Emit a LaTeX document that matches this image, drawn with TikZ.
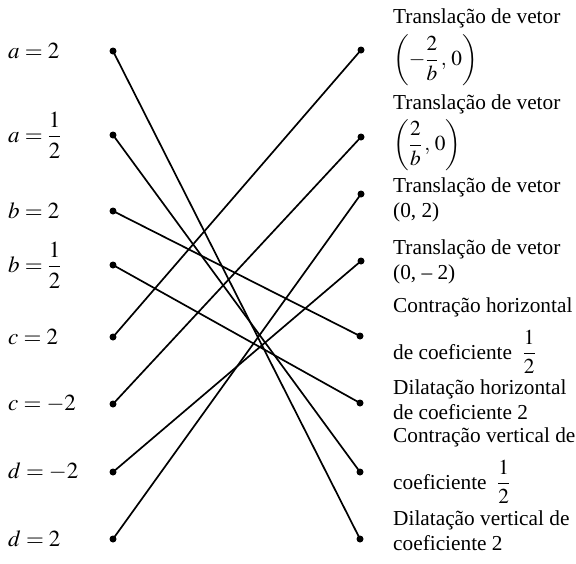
\documentclass[tikz,border=0pt]{standalone}
\usepackage{amsmath}
\usepackage{mathptmx}
\usepackage{fontspec}
\setmainfont{Liberation Serif}
\usetikzlibrary{calc}
\newcommand{\BigTxt}{\fontsize{23}{27}\selectfont}
\newcommand{\DescTxt}{\fontsize{21.3}{25}\selectfont}

\begin{document}
\begin{tikzpicture}[x=1pt,y=-1pt,
  dot/.style={circle,fill=black,inner sep=0pt,minimum size=7pt},
  lbl/.style={anchor=west,inner sep=0pt,font=\BigTxt},
  desc/.style={anchor=north west,inner sep=0pt,align=left,font=\DescTxt},
  link/.style={line width=1.7pt}]
\useasboundingbox (0,0) rectangle (576,563);
% left column: parameters
\node[dot] (aTwo) at (113,51) {};
\node[dot] (aHalf) at (113,135) {};
\node[dot] (bTwo) at (113,211) {};
\node[dot] (bHalf) at (113,265) {};
\node[dot] (cTwo) at (113,337) {};
\node[dot] (cMinus) at (113,404) {};
\node[dot] (dMinus) at (113,472) {};
\node[dot] (dTwo) at (113,539) {};
\node[lbl] (labATwo) at (8,51) {$a=2$};
\node[lbl] (labAHalf) at (8,135) {$a=\dfrac{1}{2}$};
\node[lbl] (labBTwo) at (8,211) {$b=2$};
\node[lbl] (labBHalf) at (8,265) {$b=\dfrac{1}{2}$};
\node[lbl] (labCTwo) at (8,337) {$c=2$};
\node[lbl] (labCMinus) at (8,404) {$c=-2$};
\node[lbl] (labDMinus) at (8,472) {$d=-2$};
\node[lbl] (labDTwo) at (8,539) {$d=2$};
% right column: transformations
\node[dot] (transNeg) at (361,50) {};
\node[dot] (transPos) at (361,137) {};
\node[dot] (transUp) at (361,194) {};
\node[dot] (transDown) at (361,261) {};
\node[dot] (contrH) at (360,336) {};
\node[dot] (dilatH) at (360,403) {};
\node[dot] (contrV) at (360,472) {};
\node[dot] (dilatV) at (360,539) {};
\node[desc] (txtNeg) at (393,9) {Translação de vetor\\[5pt]$\biggl(-\dfrac{2}{b}\,,\,0\biggr)$};
\node[desc] (txtPos) at (393,95) {Translação de vetor\\[4pt]$\biggl(\dfrac{2}{b}\,,\,0\biggr)$};
\node[desc] (txtUp) at (393,178) {Translação de vetor\\(0, 2)};
\node[desc] (txtDown) at (393,240) {Translação de vetor\\(0, -- 2)};
\node[desc] (txtContrH) at (393,298) {Contração horizontal\\[12pt]de coeficiente \ $\dfrac{1}{2}$};
\node[desc] (txtDilatH) at (393,380) {Dilatação horizontal\\de coeficiente 2};
\node[desc] (txtContrV) at (393,428) {Contração vertical de\\[12pt]coeficiente \ $\dfrac{1}{2}$};
\node[desc] (txtDilatV) at (393,511) {Dilatação vertical de\\coeficiente 2};
% links
\draw[link] (aTwo.center) -- (dilatV.center);
\draw[link] (aHalf.center) -- (contrV.center);
\draw[link] (bTwo.center) -- (contrH.center);
\draw[link] (bHalf.center) -- (dilatH.center);
\draw[link] (cTwo.center) -- (transNeg.center);
\draw[link] (cMinus.center) -- (transPos.center);
\draw[link] (dMinus.center) -- (transDown.center);
\draw[link] (dTwo.center) -- (transUp.center);
\end{tikzpicture}
\end{document}
